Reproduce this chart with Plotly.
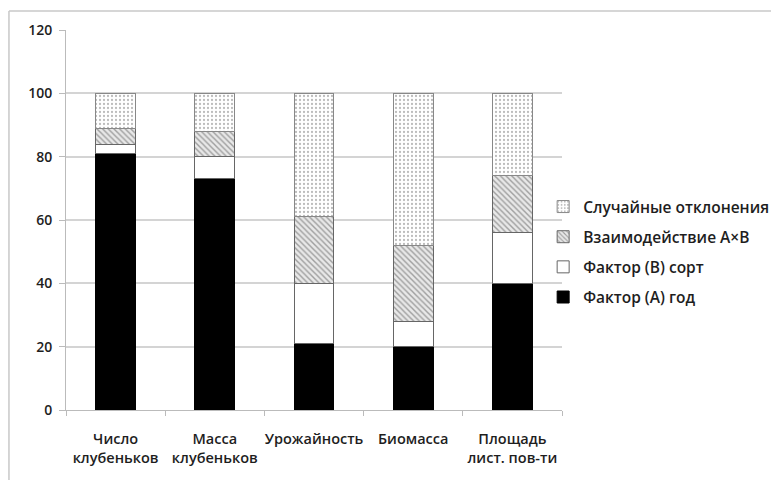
import plotly.graph_objects as go

categories = ["Число<br>клубеньков", "Масса<br>клубеньков", "Урожайность", "Биомасса", "Площадь<br>лист. пов-ти"]
factor_a = [81, 73, 21, 20, 40]
factor_b = [3, 7, 19, 8, 16]
interaction = [5, 8, 21, 24, 18]
random_dev = [11, 12, 39, 48, 26]
names = ["Фактор (А) год", "Фактор (В) сорт", "Взаимодействие А×В", "Случайные отклонения"]
y_ticks = [0, 20, 40, 60, 80, 100, 120]

FONT = "Open Sans, DejaVu Sans, sans-serif"

fig = go.Figure()
fig.add_trace(go.Bar(x=categories, y=factor_a, name=names[0], legendgroup="a", legendrank=4,
                     marker=dict(color="black", line=dict(color="black", width=1))))
fig.add_trace(go.Bar(x=categories, y=factor_b, name=names[1], legendgroup="b", legendrank=3,
                     marker=dict(color="white", line=dict(color="#666", width=1))))
fig.add_trace(go.Bar(x=categories, y=interaction, name=names[2], legendgroup="c", legendrank=2,
                     marker=dict(color="white", line=dict(color="#666", width=1),
                                 pattern=dict(shape="\\", fgcolor="#555", bgcolor="#e8e8e8",
                                              size=4, solidity=0.35))))
fig.add_trace(go.Bar(x=categories, y=random_dev, name=names[3], legendgroup="d", legendrank=1,
                     marker=dict(color="white", line=dict(color="#888", width=1),
                                 pattern=dict(shape=".", fgcolor="#777", bgcolor="white",
                                              size=4, solidity=0.25))))

fig.update_layout(
    barmode="stack",
    bargap=0.6,
    width=771, height=472,
    margin=dict(l=58, r=217, t=22, b=70, autoexpand=False),
    paper_bgcolor="white", plot_bgcolor="white",
    font=dict(family=FONT, size=14, color="#1e1e1e", weight=600),
    legend=dict(x=0.962, y=0.579, xanchor="left", yanchor="top",
                traceorder="grouped", tracegroupgap=7,
                font=dict(size=15.5, color="#1e1e1e", weight=600),
                bgcolor="rgba(0,0,0,0)"),
    xaxis=dict(showline=True, linecolor="#bbb", linewidth=1, ticks="outside",
               tickson="boundaries", ticklen=5, tickcolor="#bbb", showgrid=False,
               tickfont=dict(size=14.5), ticklabelstandoff=16, tickangle=0, automargin=False),
    yaxis=dict(range=[0, 120], tickvals=y_ticks, showgrid=True, gridcolor="#d4d4d4",
               gridwidth=1.5, showline=True, linecolor="#bbb", linewidth=1,
               ticks="outside", ticklen=6, tickcolor="#bbb", zeroline=False,
               tickfont=dict(size=14), ticklabelstandoff=4, automargin=False),
    shapes=[
        dict(type="line", xref="paper", yref="paper", x0=-0.115, x1=1.45, y0=1.05, y1=1.05,
             line=dict(color="#c8c8c8", width=1.5)),
        dict(type="line", xref="paper", yref="paper", x0=-0.115, x1=-0.115, y0=1.05, y1=-0.2,
             line=dict(color="#c8c8c8", width=1.5)),
    ],
)

fig.write_html("out.html")
